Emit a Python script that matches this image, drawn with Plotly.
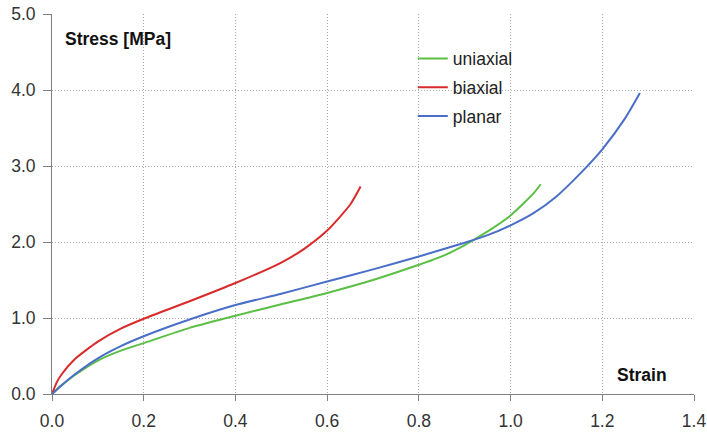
import plotly.graph_objects as go

# Data
uni_strain = [0.0, 0.02, 0.05, 0.1, 0.15, 0.2, 0.3, 0.4, 0.5, 0.6, 0.7, 0.8, 0.85, 0.9, 0.95, 1.0, 1.05, 1.066]
uni_stress = [0.0, 0.11, 0.25, 0.44, 0.57, 0.67, 0.87, 1.03, 1.18, 1.33, 1.50, 1.70, 1.81, 1.96, 2.14, 2.35, 2.64, 2.76]

bi_strain = [0.0, 0.01, 0.02, 0.05, 0.1, 0.15, 0.2, 0.3, 0.4, 0.5, 0.55, 0.6, 0.65, 0.673]
bi_stress = [0.0, 0.15, 0.25, 0.46, 0.69, 0.86, 0.99, 1.22, 1.46, 1.73, 1.91, 2.15, 2.49, 2.73]

pl_strain = [0.0, 0.02, 0.05, 0.1, 0.15, 0.2, 0.3, 0.4, 0.5, 0.6, 0.7, 0.8, 0.9, 0.95, 1.0, 1.05, 1.1, 1.15, 1.2, 1.25, 1.282]
pl_stress = [0.0, 0.11, 0.26, 0.47, 0.63, 0.76, 0.98, 1.17, 1.32, 1.48, 1.64, 1.81, 1.99, 2.09, 2.22, 2.38, 2.60, 2.89, 3.22, 3.63, 3.96]

x_ticks = [0.0, 0.2, 0.4, 0.6, 0.8, 1.0, 1.2, 1.4]
y_ticks = [0.0, 1.0, 2.0, 3.0, 4.0, 5.0]

series = [
    ("uniaxial", uni_strain, uni_stress, "#5cbf45"),
    ("biaxial", bi_strain, bi_stress, "#d92b2b"),
    ("planar", pl_strain, pl_stress, "#4a6fc8"),
]

fig = go.Figure()
for name, xs, ys, col in series:
    fig.add_trace(go.Scatter(
        x=xs, y=ys, name=name, mode="lines", legendgroup=name,
        line=dict(color=col, width=2, shape="spline", smoothing=0.6),
    ))

font = "Liberation Sans, Arial, sans-serif"
axis_common = dict(
    showgrid=True, gridcolor="#a8a8a8", griddash="1px,2px", gridwidth=1,
    showline=True, linecolor="#808080", linewidth=1,
    ticks="outside", tickcolor="#808080",
    zeroline=False, fixedrange=True, automargin=False,
    tickfont=dict(size=17.5, color="#333333", family=font),
)
fig.update_layout(
    width=707, height=432,
    margin=dict(l=52, r=13, t=14, b=38, autoexpand=False),
    paper_bgcolor="white", plot_bgcolor="white",
    font=dict(family=font, size=17.5, color="#333333"),
    showlegend=True,
    legend=dict(x=0.562, y=0.93, xanchor="left", yanchor="top",
                bgcolor="rgba(0,0,0,0)", font=dict(size=17.5, color="#222222"),
                tracegroupgap=3),
    xaxis=dict(range=[0, 1.4], tickvals=x_ticks, tickformat=".1f",
               ticklen=6, ticklabelstandoff=5, **axis_common),
    yaxis=dict(range=[0, 5.0], tickvals=y_ticks, tickformat=".1f",
               ticklen=8, ticklabelstandoff=4, **axis_common),
    annotations=[
        dict(text="<b>Stress [MPa]</b>", xref="paper", yref="paper",
             x=0.017, y=0.935, xanchor="left", yanchor="middle", showarrow=False,
             font=dict(size=17.5, color="#111111", family=font)),
        dict(text="<b>Strain</b>", xref="paper", yref="paper",
             x=0.961, y=0.05, xanchor="right", yanchor="middle", showarrow=False,
             font=dict(size=17.5, color="#111111", family=font)),
    ],
)

fig.write_html("out.html", config={"displayModeBar": False},
               post_script="document.body.style.margin='0';document.body.style.overflow='hidden';")
